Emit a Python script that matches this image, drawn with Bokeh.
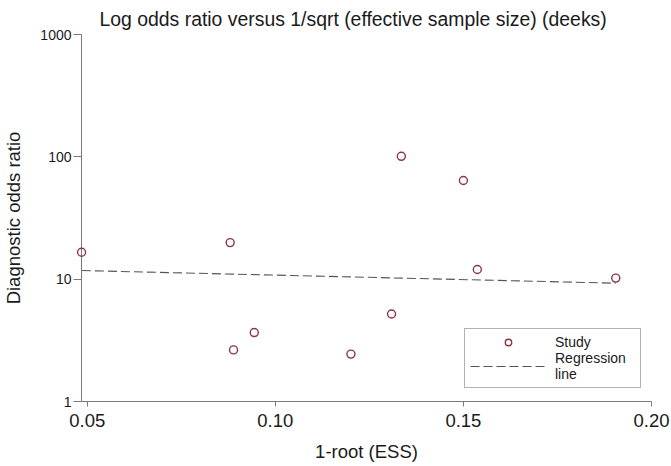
from bokeh.plotting import figure
from bokeh.models import Range1d, FixedTicker, PrintfTickFormatter, Legend, LegendItem, Title
from bokeh.embed import file_html
from bokeh.resources import INLINE

# ---- data ----
study_x = [0.0485, 0.0880, 0.0889, 0.0944, 0.1201, 0.1309, 0.1335, 0.1500, 0.1537, 0.1905]
study_dor = [16.6, 19.9, 2.64, 3.66, 2.44, 5.19, 101.0, 64.1, 12.0, 10.2]
reg_x = [0.0486, 0.1905]
reg_dor = [11.76, 9.27]
x_ticks = [0.05, 0.10, 0.15, 0.20]
y_ticks = [1, 10, 100, 1000]

FONT = "Liberation Sans"
AX = "#7a7a7a"
TXT = "#1a1a1a"

p = figure(width=670, height=465, y_axis_type="log",
           x_range=Range1d(0.04848, 0.2000), y_range=Range1d(1, 1000),
           output_backend="svg", toolbar_location=None,
           min_border_left=75, min_border_right=19,
           min_border_top=34, min_border_bottom=64)
p.outline_line_color = None
p.xgrid.visible = False
p.ygrid.visible = False
p.background_fill_color = "white"
p.border_fill_color = "white"

t = Title(text="Log odds ratio versus 1/sqrt (effective sample size) (deeks)",
          align="left", offset=18, text_font=FONT, text_font_size="19.4px",
          text_font_style="normal", text_color=TXT, standoff=9)
p.add_layout(t, "above")

# axes
p.xaxis.ticker = FixedTicker(ticks=x_ticks)
p.xaxis.formatter = PrintfTickFormatter(format="%.2f")
p.yaxis.ticker = FixedTicker(ticks=y_ticks)
p.yaxis.formatter = PrintfTickFormatter(format="%d")
for ax in (p.xaxis, p.yaxis):
    ax.axis_line_color = AX
    ax.major_tick_line_color = AX
    ax.minor_tick_line_color = None
    ax.major_tick_in = 0
    ax.major_label_text_font = FONT
    ax.major_label_text_color = TXT
    ax.axis_label_text_font = FONT
    ax.axis_label_text_font_style = "normal"
    ax.axis_label_text_color = TXT
    ax.axis_label_text_font_size = "18.5px"
p.xaxis.major_tick_out = 5
p.xaxis.major_label_standoff = 7
p.xaxis.major_label_text_font_size = "18.5px"
p.xaxis.axis_label = "1-root (ESS)"
p.xaxis.axis_label_standoff = 11
p.yaxis.major_tick_out = 8
p.yaxis.major_label_standoff = 2
p.yaxis.major_label_text_font_size = "14px"
p.yaxis.axis_label = "Diagnostic odds ratio"
p.yaxis.axis_label_standoff = 13

reg = p.line(reg_x, reg_dor, line_color="#555555", line_width=1.1, line_dash="9 4")
pts = p.scatter(study_x, study_dor, marker="circle", size=8, fill_color=None,
                line_color="#8b3448", line_width=1.4, level="overlay")

legend = Legend(items=[LegendItem(label="Study", renderers=[pts]),
                       LegendItem(label="Regression\nline", renderers=[reg])],
                location=(383, 13), orientation="vertical",
                border_line_color="#666666", border_line_width=1,
                background_fill_color="white", background_fill_alpha=1,
                padding=5, spacing=0, margin=0,
                glyph_width=76, glyph_height=16, label_standoff=9,
                label_width=80, label_height=16,
                label_text_font=FONT, label_text_font_size="14px",
                label_text_color=TXT, label_text_line_height=1.15)
p.add_layout(legend, "center")

open("out.html", "w").write(file_html(p, INLINE))
